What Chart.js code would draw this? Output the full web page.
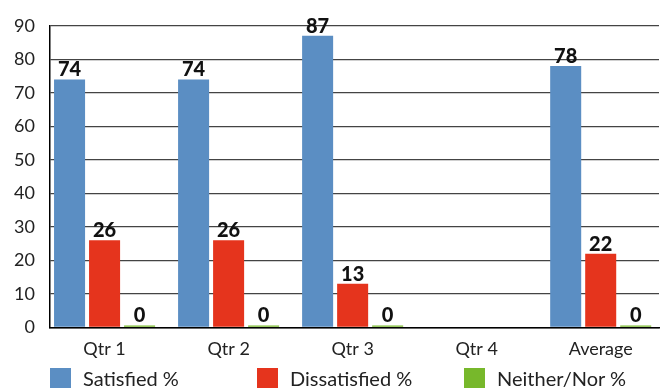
<!DOCTYPE html>
<html>
<head>
<meta charset="utf-8">
<script src="https://cdn.jsdelivr.net/npm/chart.js@4/dist/chart.umd.min.js"></script>
<style>
  html, body { margin: 0; padding: 0; background: #fff; }
  #wrap { position: relative; width: 671px; height: 390px; }
  #chart { position: absolute; left: 0; top: 0; }
  #legend {
    position: absolute; left: 50px; top: 366px; display: flex;
    font-family: Lato, "Open Sans", sans-serif; font-size: 20px; color: #222;
  }
  #legend .item { width: 207px; display: flex; align-items: center; white-space: nowrap; }
  #legend .box { width: 21px; height: 20px; margin-right: 12px; flex: none; }
</style>
</head>
<body>
<div id="wrap">
  <canvas id="chart" width="671" height="390"></canvas>
  <div id="legend"></div>
</div>
<script>
// Survey results per quarter (Qtr 4 not yet reported)
const categories = ['Qtr 1', 'Qtr 2', 'Qtr 3', 'Qtr 4', 'Average'];
const satisfied = [74, 74, 87, null, 78];
const dissatisfied = [26, 26, 13, null, 22];
const neitherNor = [0, 0, 0, null, 0];
const seriesNames = ['Satisfied %', 'Dissatisfied %', 'Neither/Nor %'];
const seriesColors = ['#5b8ec3', '#e5341d', '#77b82b'];
const yTickValues = [0, 10, 20, 30, 40, 50, 60, 70, 80, 90];

const FONT = 'Lato, "Open Sans", sans-serif';

const toPoints = arr => arr.map((v, i) => ({ x: i, y: v }));

// Writes each bar's value just above it
const valueLabels = {
  id: 'valueLabels',
  afterDatasetsDraw(chart) {
    const ctx = chart.ctx;
    ctx.save();
    ctx.font = '900 20px ' + FONT;
    ctx.fillStyle = '#111';
    ctx.textAlign = 'center';
    ctx.textBaseline = 'alphabetic';
    chart.data.datasets.forEach((ds, di) => {
      const meta = chart.getDatasetMeta(di);
      meta.data.forEach((bar, i) => {
        const v = ds.data[i].y;
        if (v === null || v === undefined) return;
        const top = Math.min(bar.y, bar.base);
        ctx.fillText(String(v), bar.x, top - 3);
      });
    });
    ctx.restore();
  }
};

const chart = new Chart(document.getElementById('chart'), {
  type: 'bar',
  data: {
    datasets: [
      { label: seriesNames[0], data: toPoints(satisfied), backgroundColor: seriesColors[0] },
      { label: seriesNames[1], data: toPoints(dissatisfied), backgroundColor: seriesColors[1] },
      { label: seriesNames[2], data: toPoints(neitherNor), backgroundColor: seriesColors[2], minBarLength: 2 }
    ]
  },
  options: {
    responsive: false,
    animation: false,
    events: [],
    categoryPercentage: 0.847,
    barPercentage: 0.886,
    layout: { padding: { top: 8, right: 12, bottom: 19, left: 0 } },
    plugins: {
      legend: { display: false },
      tooltip: { enabled: false }
    },
    scales: {
      x: {
        type: 'linear',
        offset: false,
        min: -0.44,
        max: 4.47,
        afterBuildTicks: scale => { scale.ticks = categories.map((_, i) => ({ value: i })); },
        grid: { display: false, drawTicks: false },
        border: { display: true, color: '#000', width: 1.5 },
        ticks: {
          autoSkip: false, maxRotation: 0, padding: 11,
          color: '#222', font: { family: FONT, size: 18 },
          callback: v => categories[v]
        }
      },
      y: {
        min: 0,
        max: 90,
        afterBuildTicks: scale => { scale.ticks = yTickValues.map(v => ({ value: v })); },
        afterFit: scale => { scale.width = 50; },
        grid: { color: '#444', lineWidth: 1.2, drawTicks: false },
        border: { display: true, color: '#000', width: 1.5 },
        ticks: { padding: 15, color: '#222', font: { family: FONT, size: 18 } }
      }
    }
  },
  plugins: [valueLabels]
});

// Legend built from the chart's own datasets
const legendEl = document.getElementById('legend');
chart.data.datasets.forEach(ds => {
  const item = document.createElement('div');
  item.className = 'item';
  const box = document.createElement('span');
  box.className = 'box';
  box.style.background = ds.backgroundColor;
  const text = document.createElement('span');
  text.textContent = ds.label;
  item.appendChild(box);
  item.appendChild(text);
  legendEl.appendChild(item);
});
</script>
</body>
</html>
